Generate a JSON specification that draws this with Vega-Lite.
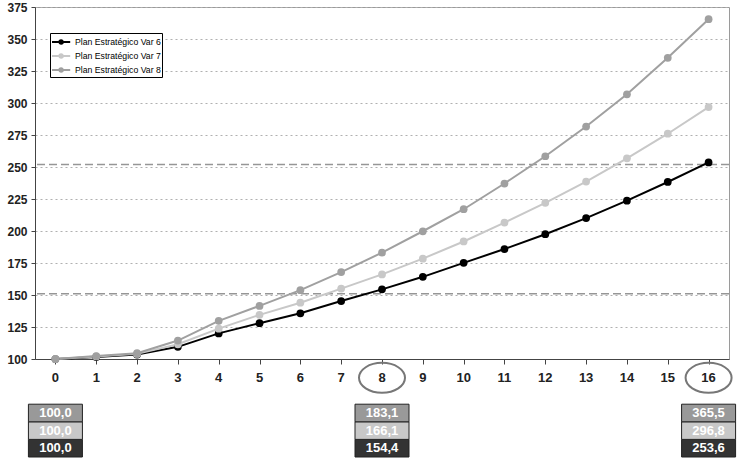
{
  "$schema": "https://vega.github.io/schema/vega-lite/v6.json",
  "padding": {"left": 4, "top": 0, "right": 5, "bottom": 5},
  "bounds": "flush",
  "spacing": 10,
  "resolve": {"scale": {"x": "independent", "y": "independent"}},
  "config": {
    "view": {"stroke": "#9a9a9a"},
    "font": "Liberation Sans",
    "locale": {"number": {"decimal": ",", "thousands": ".", "grouping": [3], "currency": ["", " €"]}}
  },
  "datasets": {
    "plan": [
      {"period": 0, "serie": "Plan Estratégico Var 6", "value": 100},
      {"period": 1, "serie": "Plan Estratégico Var 6", "value": 101.5},
      {"period": 2, "serie": "Plan Estratégico Var 6", "value": 103.5},
      {"period": 3, "serie": "Plan Estratégico Var 6", "value": 109.5},
      {"period": 4, "serie": "Plan Estratégico Var 6", "value": 120},
      {"period": 5, "serie": "Plan Estratégico Var 6", "value": 128},
      {"period": 6, "serie": "Plan Estratégico Var 6", "value": 135.7},
      {"period": 7, "serie": "Plan Estratégico Var 6", "value": 145.3},
      {"period": 8, "serie": "Plan Estratégico Var 6", "value": 154.4},
      {"period": 9, "serie": "Plan Estratégico Var 6", "value": 164.2},
      {"period": 10, "serie": "Plan Estratégico Var 6", "value": 175.1},
      {"period": 11, "serie": "Plan Estratégico Var 6", "value": 185.9},
      {"period": 12, "serie": "Plan Estratégico Var 6", "value": 197.5},
      {"period": 13, "serie": "Plan Estratégico Var 6", "value": 210.1},
      {"period": 14, "serie": "Plan Estratégico Var 6", "value": 223.7},
      {"period": 15, "serie": "Plan Estratégico Var 6", "value": 238.3},
      {"period": 16, "serie": "Plan Estratégico Var 6", "value": 253.6},
      {"period": 0, "serie": "Plan Estratégico Var 7", "value": 100},
      {"period": 1, "serie": "Plan Estratégico Var 7", "value": 102},
      {"period": 2, "serie": "Plan Estratégico Var 7", "value": 104},
      {"period": 3, "serie": "Plan Estratégico Var 7", "value": 111.5},
      {"period": 4, "serie": "Plan Estratégico Var 7", "value": 123.7},
      {"period": 5, "serie": "Plan Estratégico Var 7", "value": 134.5},
      {"period": 6, "serie": "Plan Estratégico Var 7", "value": 144},
      {"period": 7, "serie": "Plan Estratégico Var 7", "value": 155},
      {"period": 8, "serie": "Plan Estratégico Var 7", "value": 166.1},
      {"period": 9, "serie": "Plan Estratégico Var 7", "value": 178.4},
      {"period": 10, "serie": "Plan Estratégico Var 7", "value": 191.8},
      {"period": 11, "serie": "Plan Estratégico Var 7", "value": 206.6},
      {"period": 12, "serie": "Plan Estratégico Var 7", "value": 222},
      {"period": 13, "serie": "Plan Estratégico Var 7", "value": 238.6},
      {"period": 14, "serie": "Plan Estratégico Var 7", "value": 256.8},
      {"period": 15, "serie": "Plan Estratégico Var 7", "value": 276},
      {"period": 16, "serie": "Plan Estratégico Var 7", "value": 296.8},
      {"period": 0, "serie": "Plan Estratégico Var 8", "value": 100},
      {"period": 1, "serie": "Plan Estratégico Var 8", "value": 102.3},
      {"period": 2, "serie": "Plan Estratégico Var 8", "value": 104.5},
      {"period": 3, "serie": "Plan Estratégico Var 8", "value": 114.4},
      {"period": 4, "serie": "Plan Estratégico Var 8", "value": 129.8},
      {"period": 5, "serie": "Plan Estratégico Var 8", "value": 141.5},
      {"period": 6, "serie": "Plan Estratégico Var 8", "value": 153.8},
      {"period": 7, "serie": "Plan Estratégico Var 8", "value": 167.9},
      {"period": 8, "serie": "Plan Estratégico Var 8", "value": 183.1},
      {"period": 9, "serie": "Plan Estratégico Var 8", "value": 199.8},
      {"period": 10, "serie": "Plan Estratégico Var 8", "value": 217},
      {"period": 11, "serie": "Plan Estratégico Var 8", "value": 237.1},
      {"period": 12, "serie": "Plan Estratégico Var 8", "value": 258.4},
      {"period": 13, "serie": "Plan Estratégico Var 8", "value": 281.6},
      {"period": 14, "serie": "Plan Estratégico Var 8", "value": 306.8},
      {"period": 15, "serie": "Plan Estratégico Var 8", "value": 335.3},
      {"period": 16, "serie": "Plan Estratégico Var 8", "value": 365.5}
    ],
    "refs": [
      {"value": 151},
      {"value": 252}
    ]
  },
  "vconcat": [
    {
      "width": 694,
      "height": 352,
      "encoding": {
        "y": {
          "field": "value",
          "type": "quantitative",
          "scale": {"domain": [100, 375], "nice": false, "zero": false},
          "axis": {
            "title": null,
            "values": [100, 125, 150, 175, 200, 225, 250, 275, 300, 325, 350, 375],
            "grid": true,
            "gridDash": [2, 3],
            "gridColor": "#b0b0b0",
            "labelFontWeight": "bold",
            "labelFontSize": 12,
            "labelColor": "#222222",
            "tickSize": 4,
            "labelPadding": 4,
            "minExtent": 30,
            "maxExtent": 30,
            "domainColor": "#444444",
            "tickColor": "#444444"
          }
        }
      },
      "layer": [
        {
          "data": {"name": "refs"},
          "mark": {"type": "rule", "color": "#969696", "strokeDash": [8, 4], "strokeWidth": 1.5}
        },
        {
          "data": {"name": "plan"},
          "mark": {"type": "line", "strokeWidth": 2, "point": {"filled": true, "size": 60, "opacity": 1}},
          "encoding": {
            "x": {
              "field": "period",
              "type": "ordinal",
              "scale": {"domain": [0, 1, 2, 3, 4, 5, 6, 7, 8, 9, 10, 11, 12, 13, 14, 15, 16], "paddingInner": 0, "paddingOuter": 0},
              "axis": {"title": null, "labels": false, "bandPosition": 0, "tickSize": 5, "domainColor": "#444444", "tickColor": "#444444", "grid": false}
            },
            "color": {
              "field": "serie",
              "type": "nominal",
              "scale": {
                "domain": ["Plan Estratégico Var 6", "Plan Estratégico Var 7", "Plan Estratégico Var 8"],
                "range": ["#000000", "#c8c8c8", "#a0a0a0"]
              },
              "legend": {
                "orient": "none",
                "legendX": 15,
                "legendY": 26,
                "title": null,
                "fillColor": "#ffffff",
                "strokeColor": "#000000",
                "padding": 1,
                "cornerRadius": 0,
                "labelFontSize": 8.7,
                "labelColor": "#000000",
                "symbolType": "M-1,0L1.6,0M0.05,0A0.25,0.25 0 1,0 0.55,0A0.25,0.25 0 1,0 0.05,0",
                "symbolSize": 196,
                "symbolStrokeWidth": 2,
                "rowPadding": 0,
                "labelOffset": 8
              }
            }
          }
        }
      ]
    },
    {
      "width": 694,
      "height": 88,
      "view": {"stroke": null},
      "data": {"name": "plan"},
      "encoding": {
        "x": {
          "field": "period",
          "type": "ordinal",
          "scale": {"domain": [0, 1, 2, 3, 4, 5, 6, 7, 8, 9, 10, 11, 12, 13, 14, 15, 16], "paddingInner": 0, "paddingOuter": 0},
          "axis": null
        }
      },
      "layer": [
        {
          "transform": [{"filter": "datum.serie == 'Plan Estratégico Var 6'"}],
          "mark": {"type": "text", "fontWeight": "bold", "fontSize": 13, "color": "#222222"},
          "encoding": {
            "y": {
              "datum": "periodo",
              "type": "nominal",
              "scale": {
                "domain": ["periodo", "hueco", "Plan Estratégico Var 8", "Plan Estratégico Var 7", "Plan Estratégico Var 6"],
                "paddingInner": 0,
                "paddingOuter": 0
              },
              "axis": null
            },
            "text": {"field": "period", "type": "ordinal"}
          }
        },
        {
          "transform": [{"filter": "datum.serie == 'Plan Estratégico Var 6' && datum.period > 0 && datum.period % 8 == 0"}],
          "mark": {
            "type": "point",
            "shape": "M-1,0A1,0.65 0 1,1 1,0A1,0.65 0 1,1 -1,0",
            "size": 2116,
            "filled": false,
            "stroke": "#777777",
            "strokeWidth": 2,
            "opacity": 1
          },
          "encoding": {"y": {"datum": "periodo", "type": "nominal"}}
        },
        {
          "transform": [{"filter": "datum.period % 8 == 0"}],
          "mark": {"type": "rect", "width": 54, "stroke": "#222222", "strokeWidth": 1},
          "encoding": {
            "y": {"field": "serie", "type": "nominal"},
            "fill": {
              "field": "serie",
              "type": "nominal",
              "scale": {
                "domain": ["Plan Estratégico Var 6", "Plan Estratégico Var 7", "Plan Estratégico Var 8"],
                "range": ["#333333", "#c8c8c8", "#999999"]
              },
              "legend": null
            }
          }
        },
        {
          "transform": [{"filter": "datum.period % 8 == 0"}],
          "mark": {"type": "text", "fontWeight": "bold", "fontSize": 13, "color": "#ffffff"},
          "encoding": {
            "y": {"field": "serie", "type": "nominal"},
            "text": {"field": "value", "type": "quantitative", "format": ".1f"}
          }
        }
      ]
    }
  ]
}
